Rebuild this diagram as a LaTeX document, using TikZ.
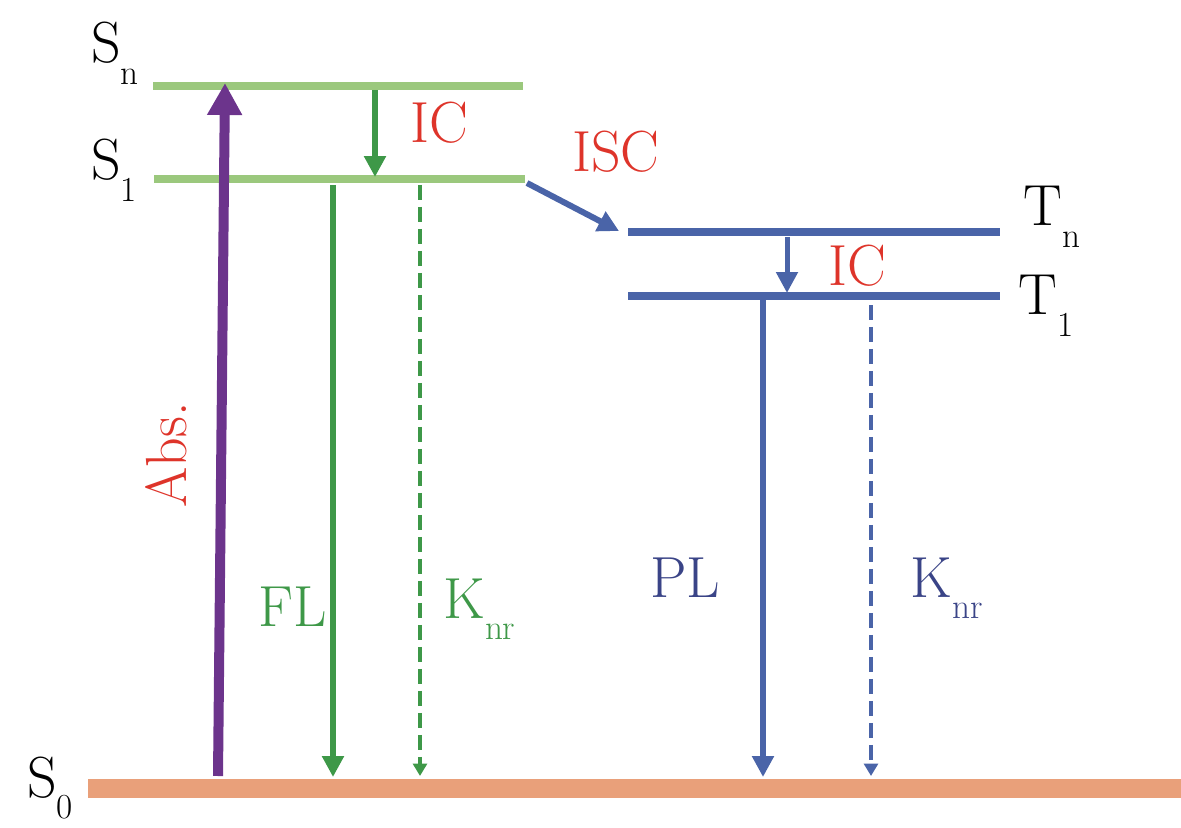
\documentclass[tikz,border=0pt]{standalone}
\usetikzlibrary{arrows.meta}

\definecolor{lvlgreen}{RGB}{155,200,125}
\definecolor{arrgreen}{RGB}{62,152,72}
\definecolor{lvlblue}{RGB}{74,100,168}
\definecolor{txtblue}{RGB}{58,68,135}
\definecolor{labred}{RGB}{222,52,42}
\definecolor{abspurple}{RGB}{108,52,140}
\definecolor{groundorange}{RGB}{233,160,122}

% state name with a lowered index
\newcommand{\lsub}[2]{#1\raisebox{-12pt}{\fontsize{20}{22}\selectfont #2}}

\begin{document}
\begin{tikzpicture}[x=0.02cm,y=-0.02cm,
	lbl/.style={inner sep=0,anchor=base west,font=\fontsize{33}{38}\selectfont},
	level/.style={line width=0.16cm},
	solidarr/.style={-{Triangle[width=0.42cm,length=0.42cm]},line width=0.13cm},
	dasharr/.style={-{Triangle[width=0.28cm,length=0.25cm]},line width=0.09cm,dash pattern=on 0.3cm off 0.14cm}]
	\useasboundingbox (0,0) rectangle (1181,828);
	% levels
	\coordinate (Sn-w) at (153,86); \coordinate (Sn-e) at (523,86);
	\coordinate (S1-w) at (154,179); \coordinate (S1-e) at (525,179);
	\coordinate (Tn-w) at (628,232); \coordinate (Tn-e) at (1000,232);
	\coordinate (T1-w) at (628,296); \coordinate (T1-e) at (1000,296);
	\coordinate (S0-w) at (88,788); \coordinate (S0-e) at (1181,788);
	\draw[level,lvlgreen] (Sn-w) -- (Sn-e);
	\draw[level,lvlgreen] (S1-w) -- (S1-e);
	\draw[level,lvlblue] (Tn-w) -- (Tn-e);
	\draw[level,lvlblue] (T1-w) -- (T1-e);
	\draw[line width=0.38cm,groundorange] (S0-w) -- (S0-e);
	\node[lbl] (Sn) at (91,63) {\lsub{S}{n}};
	\node[lbl] (S1) at (91,180) {\lsub{S}{1}};
	\node[lbl] (Tn) at (1023,226) {\lsub{T}{n}};
	\node[lbl] (T1) at (1018,315) {\lsub{T}{1}};
	\node[lbl] (S0) at (27,797) {\lsub{S}{0}};
	% transitions
	\coordinate (abs-s) at (218,776); \coordinate (abs-t) at (225,83);
	\draw[-{Triangle[width=0.66cm,length=0.64cm]},line width=0.2cm,abspurple] (abs-s) -- (abs-t);
	\node[lbl,anchor=center,rotate=90,labred] (abs) at (166,455) {Abs.};
	\coordinate (icg-s) at (375,90); \coordinate (icg-t) at (375,177);
	\draw[solidarr,arrgreen] (icg-s) -- (icg-t);
	\node[lbl,labred] (icg) at (410,143) {IC};
	\coordinate (fl-s) at (333,185); \coordinate (fl-t) at (333,777);
	\draw[solidarr,arrgreen] (fl-s) -- (fl-t);
	\node[lbl,arrgreen] (fl) at (258,626) {FL};
	\coordinate (kg-s) at (420,185); \coordinate (kg-t) at (420,776);
	\draw[dasharr,arrgreen] (kg-s) -- (kg-t);
	\node[lbl,arrgreen] (kg) at (443,618) {\lsub{K}{nr}};
	\coordinate (isc-s) at (527,183); \coordinate (isc-t) at (619,231);
	\draw[solidarr,line width=0.12cm,lvlblue] (isc-s) -- (isc-t);
	\node[lbl,labred] (isc) at (572,172) {ISC};
	\coordinate (icb-s) at (787,237); \coordinate (icb-t) at (787,293);
	\draw[solidarr,line width=0.1cm,lvlblue] (icb-s) -- (icb-t);
	\node[lbl,labred] (icb) at (828,285) {IC};
	\coordinate (pl-s) at (763,300); \coordinate (pl-t) at (763,777);
	\draw[solidarr,lvlblue] (pl-s) -- (pl-t);
	\node[lbl,txtblue] (pl) at (650,597) {PL};
	\coordinate (kb-s) at (871,305); \coordinate (kb-t) at (871,776);
	\draw[dasharr,lvlblue] (kb-s) -- (kb-t);
	\node[lbl,txtblue] (kb) at (910,597) {\lsub{K}{nr}};
\end{tikzpicture}
\end{document}
